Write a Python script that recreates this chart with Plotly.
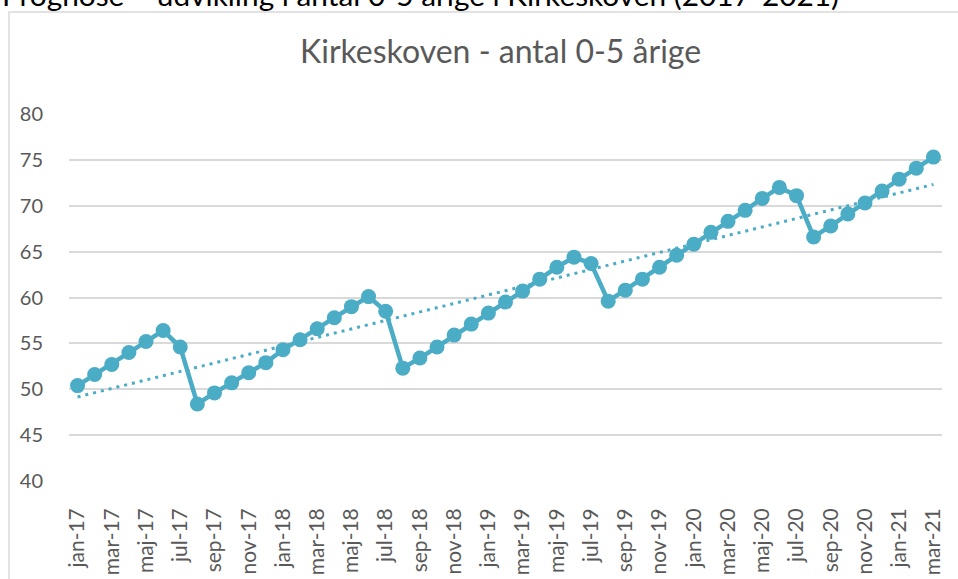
import numpy as np
import plotly.graph_objects as go

months = ["jan", "feb", "mar", "apr", "maj", "jun", "jul", "aug", "sep", "okt", "nov", "dec"]
years = ["17", "18", "19", "20", "21"]
categories = [f"{m}-{y}" for y in years for m in months][:51]

values = [
    50.4, 51.6, 52.7, 54.0, 55.2, 56.4, 54.6, 48.4, 49.6, 50.7, 51.8, 52.9,
    54.3, 55.4, 56.6, 57.8, 59.0, 60.1, 58.5, 52.3, 53.4, 54.6, 55.9, 57.1,
    58.3, 59.5, 60.7, 62.0, 63.3, 64.4, 63.7, 59.6, 60.8, 62.0, 63.3, 64.6,
    65.8, 67.1, 68.3, 69.5, 70.8, 72.0, 71.1, 66.6, 67.8, 69.1, 70.3, 71.6,
    72.9, 74.1, 75.3,
]

y_ticks = [40, 45, 50, 55, 60, 65, 70, 75, 80]
title_text = "Kirkeskoven - antal 0-5 årige"
top_text = "Prognose – udvikling i antal 0-5 årige i Kirkeskoven (2017-2021)"

x_idx = np.arange(len(values))
coef = np.polyfit(x_idx, values, 1)
trend = np.polyval(coef, x_idx)

color = "#4BACC6"
grey = "#595959"
FONT = "Lato"

W, H = 958, 579
L, R, T, B = 69, 16, 114, 98
pw, ph = W - L - R, H - T - B

def px_x(p):
    return (p - L) / pw

def px_y(p):
    return (H - B - p) / ph

fig = go.Figure()
fig.add_trace(go.Scatter(
    x=x_idx, y=trend, mode="lines",
    line=dict(color=color, width=3, dash="3px,5px"),
    hoverinfo="skip", showlegend=False,
))
fig.add_trace(go.Scatter(
    x=x_idx, y=values, mode="lines+markers",
    line=dict(color=color, width=4.5),
    marker=dict(color=color, size=15),
    showlegend=False,
))

fig.update_layout(
    width=W, height=H,
    margin=dict(l=L, r=R, t=T, b=B),
    paper_bgcolor="white", plot_bgcolor="white",
    font=dict(family=FONT, color=grey),
    xaxis=dict(
        range=[-0.5, len(values) - 0.5],
        tickvals=list(x_idx[::2]),
        ticktext=categories[::2],
        tickangle=-90,
        tickfont=dict(size=21, color=grey, family=FONT),
        showgrid=False, zeroline=False, showline=False,
        ticks="", ticklabelstandoff=22, automargin=False,
    ),
    yaxis=dict(
        range=[40, 80],
        tickvals=y_ticks,
        tickfont=dict(size=20, color=grey, family=FONT),
        showgrid=True, gridcolor="#d9d9d9", gridwidth=1.5,
        zeroline=False, showline=False, ticks="",
        ticklabelstandoff=25, automargin=False,
    ),
    shapes=[dict(
        type="rect", xref="paper", yref="paper", layer="below",
        x0=px_x(9), x1=px_x(975), y0=px_y(600), y1=px_y(12),
        line=dict(color="#d9d9d9", width=1.5), fillcolor="rgba(0,0,0,0)",
    )],
    annotations=[
        dict(text=title_text, xref="paper", yref="paper",
             x=px_x(500), y=px_y(50), xanchor="center", yanchor="middle",
             showarrow=False, font=dict(size=32, color=grey, family=FONT)),
        dict(text=top_text, xref="paper", yref="paper",
             x=px_x(0), y=px_y(-6), xanchor="left", yanchor="middle",
             showarrow=False, font=dict(size=29.8, color="black", family=FONT)),
    ],
)

fig.write_html("out.html", config={"displayModeBar": False},
               post_script="document.body.style.margin='0';")
